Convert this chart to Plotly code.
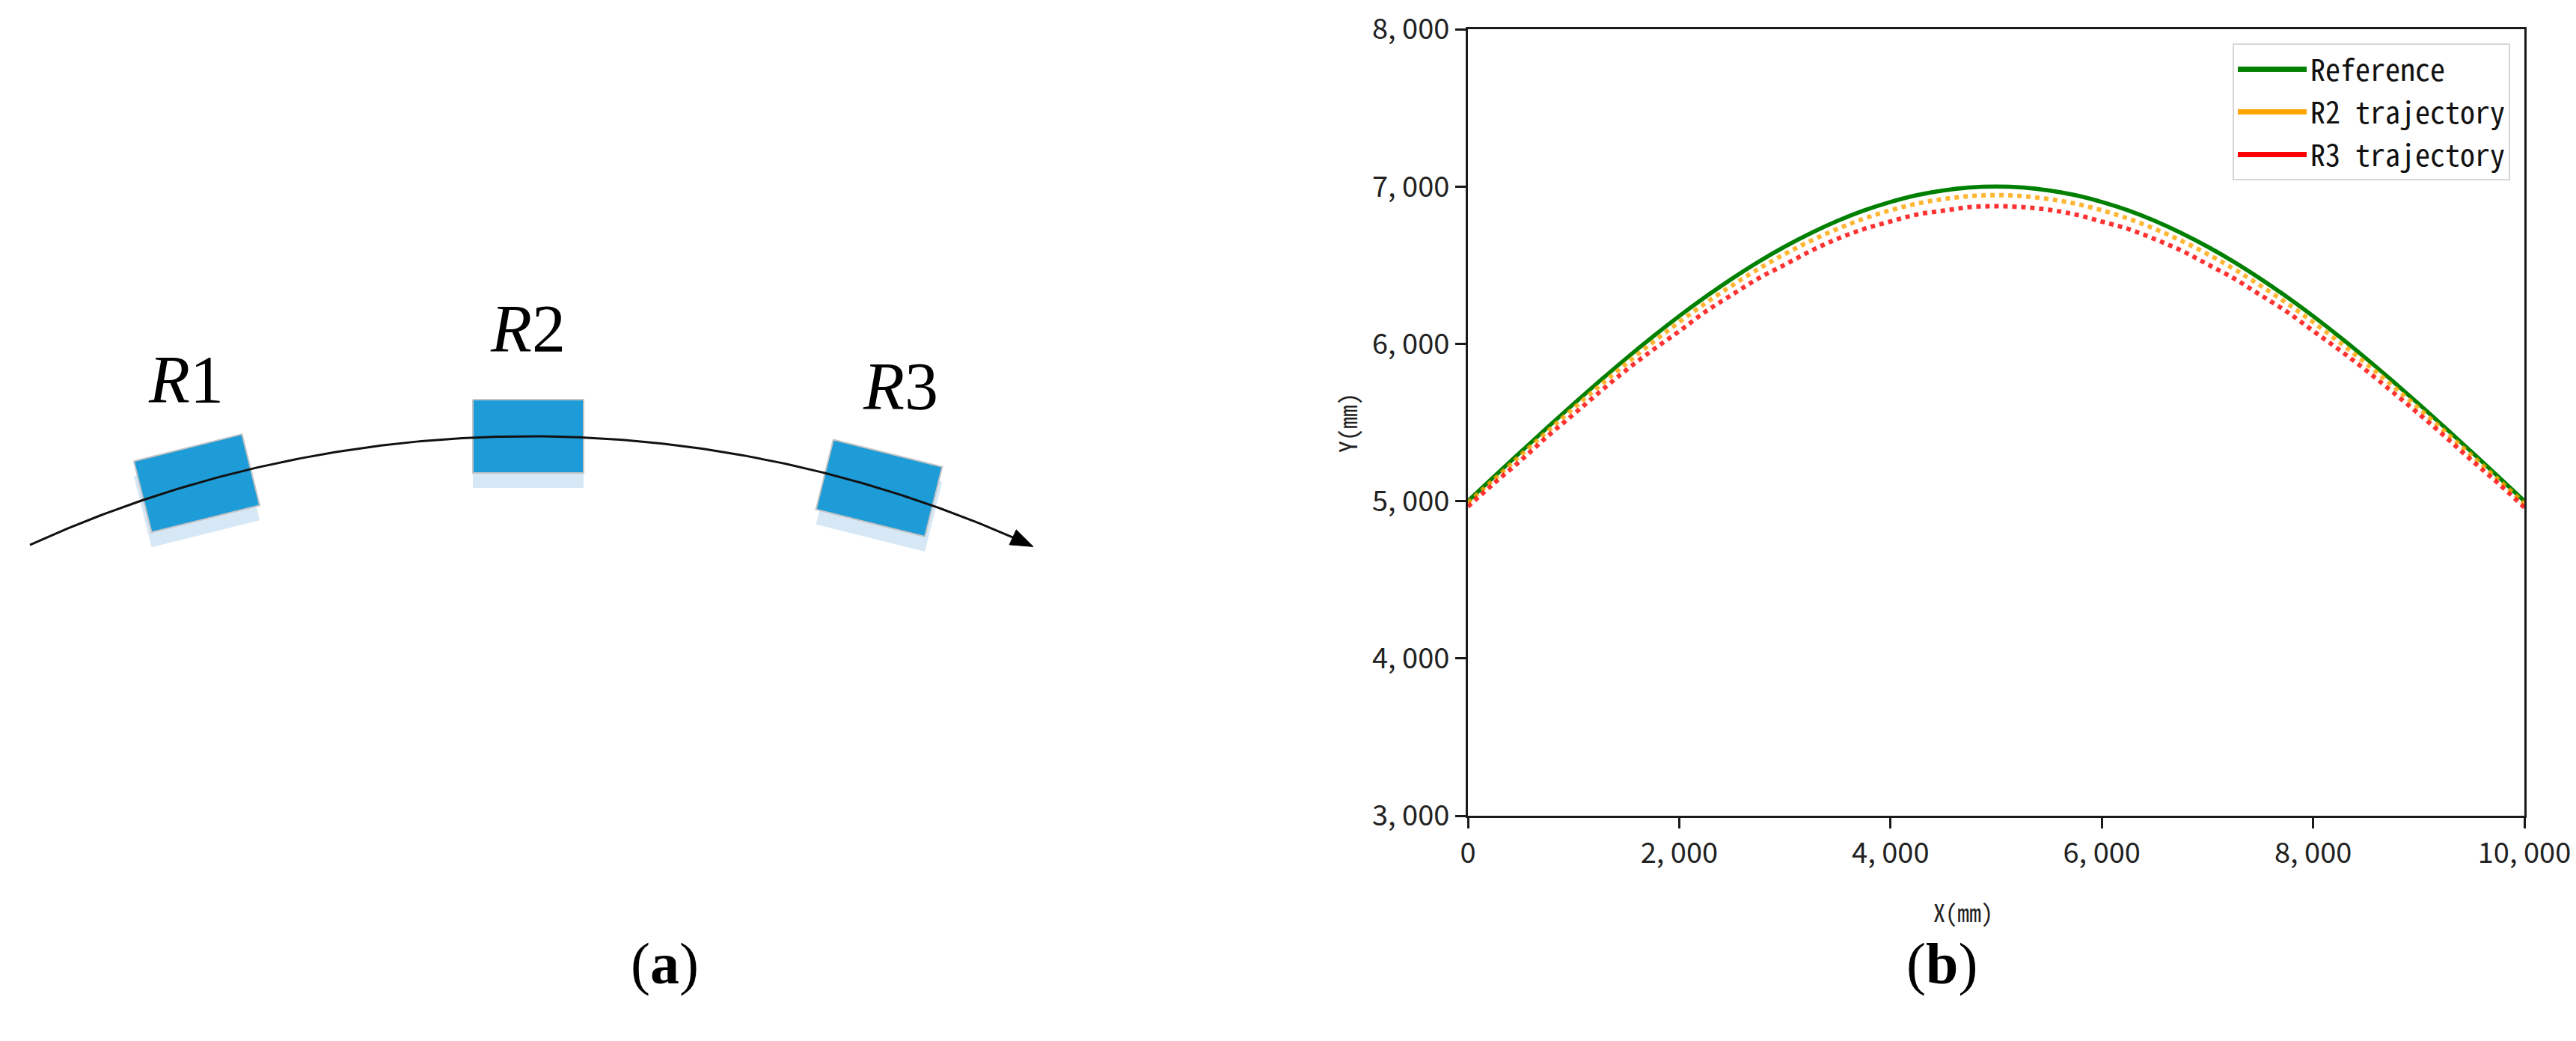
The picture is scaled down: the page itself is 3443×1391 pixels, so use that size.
import numpy as np
import plotly.graph_objects as go

# page is 3443x1391; the browser body adds an 8px margin, so the figure is drawn 8px in
OFF = 8
W, H = 3443 - OFF, 1391 - 2 * OFF


def px(x):
    return (x - OFF) / W


def py(y):
    return 1 - (y - OFF) / H


# ---- panel (b) data: trajectories (mm) ----
x_mm = [0, 250, 500, 750, 1000, 1250, 1500, 1750, 2000, 2250, 2500, 2750, 3000, 3250, 3500,
        3750, 4000, 4250, 4500, 4750, 5000, 5250, 5500, 5750, 6000, 6250, 6500, 6750, 7000,
        7250, 7500, 7750, 8000, 8250, 8500, 8750, 9000, 9250, 9500, 9750, 10000]

ref_y = [5000, 5157, 5313, 5467, 5618, 5765, 5908, 6045, 6176, 6299, 6414, 6521, 6618, 6705,
         6782, 6848, 6902, 6945, 6975, 6994, 7000, 6994, 6975, 6945, 6902, 6848, 6782, 6705,
         6618, 6521, 6414, 6299, 6176, 6045, 5908, 5765, 5618, 5467, 5313, 5157, 5000]

r2_y = [4990, 5140, 5292, 5443, 5591, 5735, 5875, 6010, 6138, 6259, 6371, 6476, 6571, 6656,
        6731, 6796, 6849, 6891, 6920, 6939, 6945, 6939, 6920, 6891, 6849, 6796, 6731, 6656,
        6571, 6476, 6371, 6259, 6138, 6010, 5875, 5735, 5591, 5443, 5292, 5140, 4985]

r3_y = [4965, 5115, 5258, 5410, 5552, 5695, 5834, 5961, 6080, 6205, 6312, 6416, 6503, 6592,
        6668, 6730, 6778, 6822, 6846, 6869, 6875, 6869, 6852, 6822, 6777, 6730, 6666, 6594,
        6506, 6416, 6311, 6205, 6082, 5961, 5832, 5695, 5555, 5410, 5260, 5115, 4960]

series_names = ["Reference", "R2 trajectory", "R3 trajectory"]
series_colors = ["#008000", "#ffa500", "#ff0000"]

xtick_vals = [0, 2000, 4000, 6000, 8000, 10000]
xtick_text = ["0", "2, 000", "4, 000", "6, 000", "8, 000", "10, 000"]
ytick_vals = [3000, 4000, 5000, 6000, 7000, 8000]
ytick_text = ["3, 000", "4, 000", "5, 000", "6, 000", "7, 000", "8, 000"]

# ---- panel (a) diagram: robots on an arc (page pixel units) ----
robot_names = ["R1", "R2", "R3"]
robot_x = [263, 706, 1175]
robot_angle = [-14, 0, 14]          # degrees
robot_size = [(149, 98), (148, 98), (150, 96)]
label_pos = [(248, 508), (705, 440), (1203, 517)]
arc_cx, arc_cy, arc_r = 708, 2193, 1610
arc_x0, arc_tip = 40, 1381

MONO = "Noto Sans Mono CJK SC, DejaVu Sans Mono, monospace"
NARROW = "Liberation Sans Narrow, Noto Sans CJK SC, Arial, sans-serif"
SERIF = "Liberation Serif, Times New Roman, serif"

fig = go.Figure()


def rect_poly(cx, cy, w, h, ang):
    a = np.radians(ang)
    c, s = np.cos(a), np.sin(a)
    pts = [(-w / 2, -h / 2), (w / 2, -h / 2), (w / 2, h / 2), (-w / 2, h / 2), (-w / 2, -h / 2)]
    return [cx + p * c - q * s for p, q in pts], [cy + p * s + q * c for p, q in pts]


# diagram: shadows + blue blocks
for name, rx, ang, (w, h) in zip(robot_names, robot_x, robot_angle, robot_size):
    ry = arc_cy - np.sqrt(arc_r ** 2 - (rx - arc_cx) ** 2)
    sx, sy = rect_poly(rx, ry + 20, w, h, ang)
    fig.add_trace(go.Scatter(x=sx, y=sy, xaxis="x2", yaxis="y2", mode="lines", fill="toself",
                             fillcolor="#d6e8f6", line=dict(width=0), showlegend=False, hoverinfo="skip"))
    bx, by = rect_poly(rx, ry, w, h, ang)
    fig.add_trace(go.Scatter(x=bx, y=by, xaxis="x2", yaxis="y2", mode="lines", fill="toself",
                             fillcolor="#1e9cd8", line=dict(color="#c4c4c4", width=2),
                             showlegend=False, hoverinfo="skip"))

# arc with arrow head
head_len, head_hw = 30, 11
th = np.arcsin((arc_tip - arc_cx) / arc_r)
tip = np.array([arc_tip, arc_cy - arc_r * np.cos(th)])
d = np.array([np.cos(th), np.sin(th)])
nrm = np.array([-np.sin(th), np.cos(th)])
base = tip - head_len * d
phi = np.linspace(np.arcsin((arc_x0 - arc_cx) / arc_r), np.arcsin((base[0] - arc_cx) / arc_r), 200)
fig.add_trace(go.Scatter(x=arc_cx + arc_r * np.sin(phi), y=arc_cy - arc_r * np.cos(phi),
                         xaxis="x2", yaxis="y2", mode="lines", line=dict(color="#111", width=3),
                         showlegend=False, hoverinfo="skip"))
tri = [base + head_hw * nrm, tip, base - head_hw * nrm, base + head_hw * nrm]
fig.add_trace(go.Scatter(x=[p[0] for p in tri], y=[p[1] for p in tri], xaxis="x2", yaxis="y2",
                         mode="lines", fill="toself", fillcolor="#000", line=dict(color="#000", width=1),
                         showlegend=False, hoverinfo="skip"))

for name, (lx, ly) in zip(robot_names, label_pos):
    fig.add_annotation(x=lx, y=ly, xref="x2", yref="y2", text="<i>R</i>" + name[1:], showarrow=False,
                       font=dict(family=SERIF, size=90, color="#000"))

# ---- panel (b) ----
fig.add_trace(go.Scatter(x=x_mm, y=ref_y, mode="lines", line=dict(color=series_colors[0], width=5.5, shape="spline"),
                         showlegend=False))
fig.add_trace(go.Scatter(x=x_mm, y=r2_y, mode="lines", opacity=0.8,
                         line=dict(color=series_colors[1], width=6, dash="6px,6px", shape="spline"),
                         showlegend=False))
fig.add_trace(go.Scatter(x=x_mm, y=r3_y, mode="lines", opacity=0.8,
                         line=dict(color=series_colors[2], width=6, dash="6px,6px", shape="spline"),
                         showlegend=False))
for nm, col in zip(series_names, series_colors):
    fig.add_trace(go.Scatter(x=[None], y=[None], mode="lines", name=nm, legendgroup=nm,
                             line=dict(color=col, width=7)))

axis_common = dict(showline=True, mirror=True, linecolor="#1a1a1a", linewidth=3, showgrid=False,
                   zeroline=False, ticks="outside", ticklen=14, tickwidth=3, tickcolor="#1a1a1a",
                   automargin=False, ticklabeloverflow="allow",
                   tickfont=dict(family=NARROW, size=38, color="#222"))
fig.update_layout(
    width=W, height=H, margin=dict(l=0, r=0, t=0, b=0, autoexpand=False),
    paper_bgcolor="white", plot_bgcolor="white",
    xaxis=dict(domain=[px(1962), px(3374)], range=[0, 10000], tickvals=xtick_vals, ticktext=xtick_text,
               **axis_common),
    yaxis=dict(domain=[py(1090), py(39)], range=[3000, 8000], tickvals=ytick_vals, ticktext=ytick_text,
               **axis_common),
    xaxis2=dict(domain=[0, px(1420)], range=[OFF, 1420], visible=False, anchor="y2"),
    yaxis2=dict(domain=[py(1000), py(300)], range=[1000, 300], visible=False, anchor="x2"),
    legend=dict(x=px(3355), xanchor="right", y=py(58), yanchor="top", bgcolor="white",
                bordercolor="#d6d6d6", borderwidth=2, font=dict(family=MONO, size=40, color="#111"),
                tracegroupgap=2, itemwidth=92),
    showlegend=True,
)

fig.add_annotation(x=px(2666), y=py(1243), xref="paper", yref="paper", text="X(mm)", showarrow=False,
                   font=dict(family=MONO, size=32, color="#222"))
fig.add_annotation(x=px(1800), y=py(565), xref="paper", yref="paper", text="Y(mm)", showarrow=False,
                   textangle=-90, font=dict(family=MONO, size=32, color="#222"))
fig.add_annotation(x=px(841), y=py(1333), xref="paper", yref="paper", text="(<b>a</b>)", showarrow=False,
                   font=dict(family=SERIF, size=78, color="#000"))
fig.add_annotation(x=px(2645), y=py(1333), xref="paper", yref="paper", text="(<b>b</b>)", showarrow=False,
                   font=dict(family=SERIF, size=78, color="#000"))

fig.write_html("out.html")
